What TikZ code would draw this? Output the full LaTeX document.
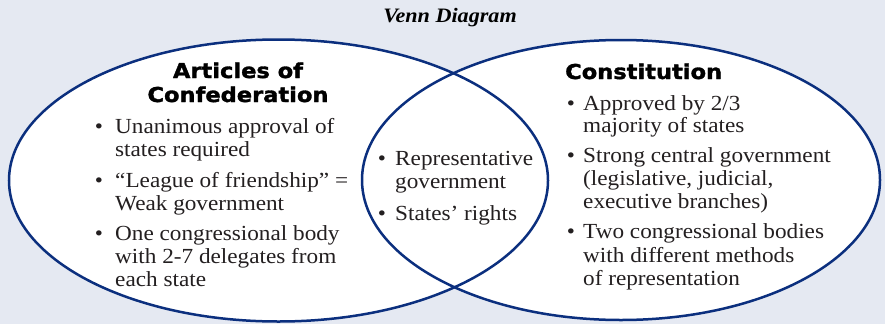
\documentclass[tikz,border=0pt]{standalone}
\usepackage{fontspec}
\setmainfont{Liberation Serif}[FakeStretch=1.08]
\newfontfamily\headfont{DejaVu Sans}[FakeStretch=1.1, FakeBold=1.6]
\definecolor{bg}{HTML}{E5E9F2}
\definecolor{navy}{HTML}{0B2F7E}
\definecolor{ink}{HTML}{231F20}
\tikzset{
  ring/.style={draw=navy, line width=2.5pt},
  head/.style={inner sep=0pt, text=black, font=\headfont\bfseries\fontsize{20.5}{24}\selectfont},
  txt/.style={inner sep=0pt, anchor=base west, text=ink, font=\fontsize{21.5}{23}\selectfont},
  dot/.style={inner sep=0pt, anchor=base, text=ink, font=\fontsize{21.5}{23}\selectfont},
  title/.style={inner sep=0pt, anchor=base, text=black, font=\bfseries\itshape\fontsize{20.5}{24}\selectfont}
}
\begin{document}
\begin{tikzpicture}[x=1pt,y=-1pt]
\useasboundingbox (0,0) rectangle (885,324);
\fill[bg] (0,0) rectangle (885,324);
% ellipses
\fill[white] (278.5,180.5) ellipse [x radius=269.5, y radius=141];
\fill[white] (621,180) ellipse [x radius=259, y radius=140];
\draw[ring] (278.5,180.5) ellipse [x radius=269.5, y radius=141];
\draw[ring] (621,180) ellipse [x radius=259, y radius=140];
% title
\node[title] (t) at (450,22) {Venn Diagram};
% left heading
\node[head, anchor=base] (h1) at (238,78) {Articles of};
\node[head, anchor=base] (h2) at (238,102) {Confederation};
% left items
\node[dot] (lb1) at (99,133) {•};
\node[txt] (l1a) at (115,133) {Unanimous approval of};
\node[txt] (l1b) at (115,156) {states required};
\node[dot] (lb2) at (99,187) {•};
\node[txt] (l2a) at (115,187) {“League of friendship” =};
\node[txt] (l2b) at (115,210) {Weak government};
\node[dot] (lb3) at (99,240) {•};
\node[txt] (l3a) at (115,240) {One congressional body};
\node[txt] (l3b) at (115,263) {with 2-7 delegates from};
\node[txt] (l3c) at (115,286) {each state};
% middle items
\node[dot] (mb1) at (382,165) {•};
\node[txt] (m1a) at (395,165) {Representative};
\node[txt] (m1b) at (395,188) {government};
\node[dot] (mb2) at (382,220) {•};
\node[txt] (m2a) at (395,220) {States’ rights};
% right heading
\node[head, anchor=base west] (h3) at (565,79) {Constitution};
% right items
\node[dot] (rb1) at (571,110) {•};
\node[txt] (r1a) at (583,110) {Approved by 2/3};
\node[txt] (r1b) at (583,132) {majority of states};
\node[dot] (rb2) at (571,162) {•};
\node[txt] (r2a) at (583,162) {Strong central government};
\node[txt] (r2b) at (583,185) {(legislative, judicial,};
\node[txt] (r2c) at (583,208) {executive branches)};
\node[dot] (rb3) at (571,238) {•};
\node[txt] (r3a) at (583,238) {Two congressional bodies};
\node[txt] (r3b) at (583,262) {with different methods};
\node[txt] (r3c) at (583,285) {of representation};
\end{tikzpicture}
\end{document}
